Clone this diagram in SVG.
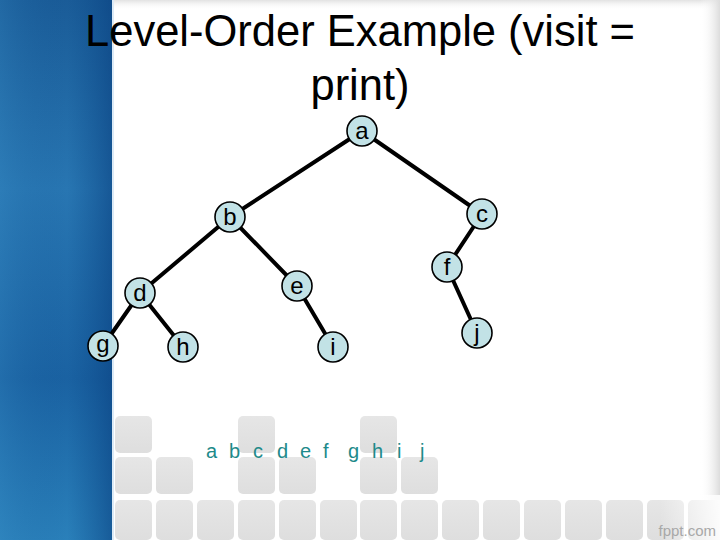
<svg xmlns="http://www.w3.org/2000/svg" width="720" height="540" viewBox="0 0 720 540">
<defs>
<linearGradient id="blueV" x1="0" y1="0" x2="0" y2="1">
<stop offset="0" stop-color="#1a5c98"/>
<stop offset="0.35" stop-color="#2876b2"/>
<stop offset="0.7" stop-color="#1a62a2"/>
<stop offset="1" stop-color="#2a80ba"/>
</linearGradient>
<linearGradient id="blueH" x1="0" y1="0" x2="1" y2="0">
<stop offset="0" stop-color="#3a90c8" stop-opacity="0.25"/>
<stop offset="0.6" stop-color="#0c4a8a" stop-opacity="0"/>
<stop offset="1" stop-color="#083e7e" stop-opacity="0.55"/>
</linearGradient>
<linearGradient id="topG" x1="0" y1="0" x2="0" y2="1">
<stop offset="0" stop-color="#e2e2e2"/>
<stop offset="1" stop-color="#ffffff" stop-opacity="0"/>
</linearGradient>
<linearGradient id="rightG" x1="0" y1="0" x2="1" y2="0">
<stop offset="0" stop-color="#ffffff" stop-opacity="0"/>
<stop offset="1" stop-color="#dcdcdc"/>
</linearGradient>
<linearGradient id="sq" x1="0" y1="0" x2="0" y2="1">
<stop offset="0" stop-color="#e6e6e6"/>
<stop offset="1" stop-color="#dedede"/>
</linearGradient>
<linearGradient id="fadeR" x1="0" y1="0" x2="1" y2="0">
<stop offset="0" stop-color="#ffffff" stop-opacity="0"/>
<stop offset="1" stop-color="#ffffff" stop-opacity="0.9"/>
</linearGradient>
<style>
.node circle { fill: #c2e2e6; stroke: #000; stroke-width: 1.6; }
.node text { font-family: "Liberation Sans", Arial, sans-serif; font-size: 24px; fill: #000; text-anchor: middle; }
.edge { stroke: #000; stroke-width: 4; stroke-linecap: round; }
.sq { fill: url(#sq); }
.title { font-family: "Liberation Sans", Arial, sans-serif; font-size: 43.5px; fill: #000; text-anchor: middle; }
.order { font-family: "Liberation Sans", Arial, sans-serif; font-size: 20px; fill: #1e8a8a; }
</style>
</defs>

<g id="background">
<rect x="0" y="0" width="720" height="540" fill="#ffffff"/>
<rect x="0" y="0" width="720" height="10" fill="url(#topG)"/>
<rect x="700" y="0" width="20" height="540" fill="url(#rightG)"/>
<rect x="0" y="0" width="112" height="540" fill="url(#blueV)"/>
<rect x="0" y="0" width="112" height="540" fill="url(#blueH)"/>
<rect x="112" y="0" width="2" height="540" fill="#dceaf6"/>
</g>

<g id="squares">
<rect class="sq" x="115" y="416" width="37" height="37" rx="5"/>
<rect class="sq" x="238" y="416" width="37" height="37" rx="5"/>
<rect class="sq" x="360" y="416" width="37" height="37" rx="5"/>
<rect class="sq" x="115" y="457" width="37" height="37" rx="5"/>
<rect class="sq" x="156" y="457" width="37" height="37" rx="5"/>
<rect class="sq" x="238" y="457" width="37" height="37" rx="5"/>
<rect class="sq" x="279" y="457" width="37" height="37" rx="5"/>
<rect class="sq" x="360" y="457" width="37" height="37" rx="5"/>
<rect class="sq" x="401" y="457" width="37" height="37" rx="5"/>
<rect class="sq" x="115" y="500" width="37" height="40" rx="5"/>
<rect class="sq" x="156" y="500" width="37" height="40" rx="5"/>
<rect class="sq" x="197" y="500" width="37" height="40" rx="5"/>
<rect class="sq" x="238" y="500" width="37" height="40" rx="5"/>
<rect class="sq" x="279" y="500" width="37" height="40" rx="5"/>
<rect class="sq" x="320" y="500" width="37" height="40" rx="5"/>
<rect class="sq" x="360" y="500" width="37" height="40" rx="5"/>
<rect class="sq" x="401" y="500" width="37" height="40" rx="5"/>
<rect class="sq" x="442" y="500" width="37" height="40" rx="5"/>
<rect class="sq" x="483" y="500" width="37" height="40" rx="5"/>
<rect class="sq" x="524" y="500" width="37" height="40" rx="5"/>
<rect class="sq" x="565" y="500" width="37" height="40" rx="5"/>
<rect class="sq" x="606" y="500" width="37" height="40" rx="5"/>
<rect class="sq" x="647" y="500" width="37" height="40" rx="5"/>
<rect class="sq" x="688" y="500" width="37" height="40" rx="5"/>
<rect x="660" y="495" width="60" height="45" fill="url(#fadeR)"/>
</g>

<g id="title">
<text class="title" x="360" y="46">Level-Order Example (visit =</text>
<text class="title" x="360" y="100">print)</text>
</g>

<g id="connectors">
<line class="edge" x1="362" y1="131" x2="230" y2="217"/>
<line class="edge" x1="362" y1="131" x2="482" y2="214"/>
<line class="edge" x1="230" y1="217" x2="140" y2="293"/>
<line class="edge" x1="230" y1="217" x2="297" y2="286"/>
<line class="edge" x1="482" y1="214" x2="447" y2="267"/>
<line class="edge" x1="140" y1="293" x2="103" y2="346"/>
<line class="edge" x1="140" y1="293" x2="183" y2="347"/>
<line class="edge" x1="297" y1="286" x2="333" y2="347"/>
<line class="edge" x1="447" y1="267" x2="477" y2="333"/>
</g>

<g id="node-a" class="node"><circle cx="362" cy="131" r="15"/><text x="362" y="139">a</text></g>
<g id="node-b" class="node"><circle cx="230" cy="217" r="15"/><text x="230" y="225">b</text></g>
<g id="node-c" class="node"><circle cx="482" cy="214" r="15"/><text x="482" y="222">c</text></g>
<g id="node-d" class="node"><circle cx="140" cy="293" r="15"/><text x="140" y="301">d</text></g>
<g id="node-e" class="node"><circle cx="297" cy="286" r="15"/><text x="297" y="294">e</text></g>
<g id="node-f" class="node"><circle cx="447" cy="267" r="15"/><text x="447" y="275">f</text></g>
<g id="node-g" class="node"><circle cx="103" cy="346" r="15"/><text x="103" y="352">g</text></g>
<g id="node-h" class="node"><circle cx="183" cy="347" r="15"/><text x="183" y="355">h</text></g>
<g id="node-i" class="node"><circle cx="333" cy="347" r="15"/><text x="333" y="355">i</text></g>
<g id="node-j" class="node"><circle cx="477" cy="333" r="15"/><text x="477" y="341">j</text></g>

<g id="order">
<text class="order" y="458"><tspan x="206">a</tspan> <tspan x="229">b</tspan> <tspan x="253">c</tspan> <tspan x="277">d</tspan> <tspan x="300">e</tspan> <tspan x="323">f</tspan> <tspan x="348">g</tspan> <tspan x="372">h</tspan> <tspan x="397">i</tspan> <tspan x="420">j</tspan></text>
</g>

<g id="watermark">
<text x="716" y="536" text-anchor="end" font-family="Liberation Sans, Arial, sans-serif" font-size="15" fill="#a8a8a8">fppt.com</text>
</g>
</svg>
